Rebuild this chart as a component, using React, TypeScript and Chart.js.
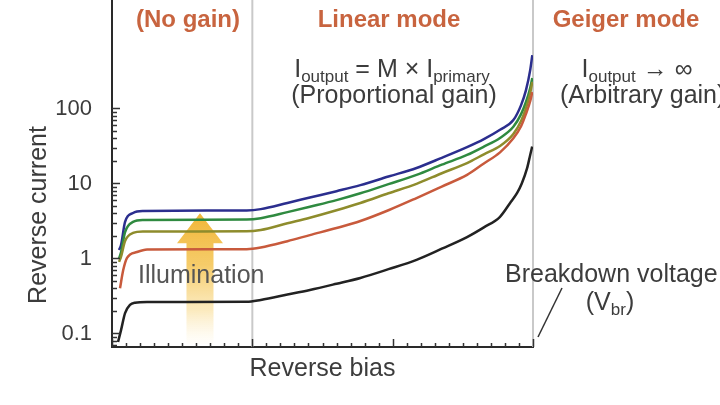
import React, { useEffect, useRef } from "react";
import { Chart, registerables } from "chart.js";

Chart.register(...registerables);

const FONT = '"Liberation Sans", Arial, Helvetica, sans-serif';

// ---- data (reverse bias in arbitrary units 0..30, reverse current on log scale) ----
const darkBias = [0.43, 0.64, 0.93, 1.28, 1.64, 2.5, 9.6, 10.6, 12.5, 14.1, 16, 17.7, 19.7, 21.7, 23.5, 25.3, 26.5, 27.65, 28.37, 28.87, 29.2, 29.58, 29.8, 29.94];
const darkCurrent = [0.077, 0.11, 0.187, 0.24, 0.257, 0.263, 0.264, 0.28, 0.33, 0.38, 0.46, 0.55, 0.72, 0.96, 1.35, 1.93, 2.6, 3.6, 5.5, 7.5, 10, 16, 24, 31];

const lowBias = [0.57, 0.8, 1.07, 1.78, 2.5, 9.6, 10.6, 12.5, 14.1, 16, 17.7, 19.7, 21.7, 23.5, 25.3, 26.5, 27.65, 28.6, 29.15, 29.5, 29.8, 29.95];
const lowCurrent = [0.4, 0.7, 1.02, 1.22, 1.32, 1.33, 1.4, 1.7, 2.05, 2.55, 3.16, 4.4, 6.4, 9.1, 13, 18.5, 26, 40, 58, 85, 125, 166];

const litBias = [0.5, 0.64, 0.93, 1.5, 2.2, 9.6, 10.6, 12.5, 14.1, 16, 17.7, 19.7, 21.7, 23.5, 25.3, 26.5, 27.65, 28.6, 29.15, 29.5, 29.8, 29.95];
const midCurrent = [0.9, 1.05, 1.71, 2.19, 2.29, 2.3, 2.4, 2.95, 3.5, 4.4, 5.5, 7.4, 9.9, 13.7, 18.7, 24.5, 31.6, 45.7, 68, 101, 161, 225];
const highCurrent = [1.0, 1.2, 2.25, 3.07, 3.26, 3.31, 3.45, 4.15, 4.9, 6.0, 7.4, 9.8, 13, 17.8, 24, 31, 40.5, 57, 84, 122, 188, 255];
const maxCurrent = [1.3, 1.5, 3.07, 4.04, 4.3, 4.37, 4.55, 5.5, 6.5, 7.9, 9.5, 12.4, 16.1, 22, 30.5, 39, 52, 70, 111, 176, 325, 515];

const yTickValues = [0.1, 1, 10, 100];
const modeBounds = [10, 30];
const biasMin = 0;
const biasMax = 30;
const currentMin = 0.066;
const currentMax = 2797;

// arrow (illumination) anchor in data units
const arrowBias = 6.27;
const arrowTip = 4.0;
const arrowHeadBase = 1.6;

const ORANGE = "#c8643f";
const TEXT = "#3c3c3c";

type Part = { t: string; size: number; bold?: boolean; dy?: number };

function drawRich(ctx: CanvasRenderingContext2D, parts: Part[], x: number, baseline: number, align: "left" | "center") {
  let w = 0;
  for (const p of parts) {
    ctx.font = `${p.bold ? "bold " : ""}${p.size}px ${FONT}`;
    w += ctx.measureText(p.t).width;
  }
  let cx = align === "center" ? x - w / 2 : x;
  ctx.textAlign = "left";
  ctx.textBaseline = "alphabetic";
  for (const p of parts) {
    ctx.font = `${p.bold ? "bold " : ""}${p.size}px ${FONT}`;
    ctx.fillText(p.t, cx, baseline + (p.dy || 0));
    cx += ctx.measureText(p.t).width;
  }
}

const annotations = {
  id: "annotations",
  beforeDatasetsDraw(chart: any) {
    const { ctx, chartArea, scales } = chart;
    const x = scales.x;
    const y = scales.y;
    ctx.save();
    // region dividers
    ctx.strokeStyle = "#c9c9c9";
    ctx.lineWidth = 2;
    for (const b of modeBounds) {
      const px = x.getPixelForValue(b);
      ctx.beginPath();
      ctx.moveTo(px, 0);
      ctx.lineTo(px, chartArea.bottom);
      ctx.stroke();
    }
    // illumination arrow
    const cx = x.getPixelForValue(arrowBias);
    const tipY = y.getPixelForValue(arrowTip);
    const baseY = y.getPixelForValue(arrowHeadBase);
    const botY = chartArea.bottom - 3;
    const g = ctx.createLinearGradient(0, tipY, 0, botY);
    g.addColorStop(0, "rgba(240,178,45,0.95)");
    g.addColorStop(0.4, "rgba(244,195,80,0.85)");
    g.addColorStop(0.75, "rgba(248,215,130,0.5)");
    g.addColorStop(1, "rgba(252,235,190,0.05)");
    ctx.fillStyle = g;
    ctx.beginPath();
    ctx.moveTo(cx, tipY);
    ctx.lineTo(cx + 23, baseY);
    ctx.lineTo(cx + 13.5, baseY);
    ctx.lineTo(cx + 13.5, botY);
    ctx.lineTo(cx - 13.5, botY);
    ctx.lineTo(cx - 13.5, baseY);
    ctx.lineTo(cx - 23, baseY);
    ctx.closePath();
    ctx.fill();
    ctx.restore();
  },
  afterDatasetsDraw(chart: any) {
    const { ctx, chartArea, scales } = chart;
    const x = scales.x;
    const y = scales.y;
    ctx.save();
    // inside tick marks
    ctx.strokeStyle = "#333";
    ctx.lineWidth = 1.5;
    for (let d = -2; d <= 2; d++) {
      for (let m = 1; m <= 9; m++) {
        const v = m * Math.pow(10, d);
        if (v < currentMin || v > 100.001) continue;
        const py = Math.round(y.getPixelForValue(v)) + 0.5;
        ctx.beginPath();
        ctx.moveTo(chartArea.left, py);
        ctx.lineTo(chartArea.left + (m === 1 ? 8 : 5), py);
        ctx.stroke();
      }
    }
    for (let i = biasMin; i <= biasMax; i++) {
      const px = Math.round(x.getPixelForValue(i)) + 0.5;
      ctx.beginPath();
      ctx.moveTo(px, chartArea.bottom);
      ctx.lineTo(px, chartArea.bottom - (i % 10 === 0 ? 8 : 4));
      ctx.stroke();
    }

    // mode headings
    ctx.fillStyle = ORANGE;
    drawRich(ctx, [{ t: "(No gain)", size: 24, bold: true }], 188, 27, "center");
    drawRich(ctx, [{ t: "Linear mode", size: 24, bold: true }], 389, 27, "center");
    drawRich(ctx, [{ t: "Geiger mode", size: 24, bold: true }], 626, 27, "center");

    ctx.fillStyle = TEXT;
    drawRich(
      ctx,
      [
        { t: "I", size: 25 },
        { t: "output", size: 17, dy: 5 },
        { t: " = M × I", size: 25 },
        { t: "primary", size: 17, dy: 5 },
      ],
      392,
      77,
      "center"
    );
    drawRich(ctx, [{ t: "(Proportional gain)", size: 25 }], 394, 103, "center");
    drawRich(
      ctx,
      [
        { t: "I", size: 25 },
        { t: "output", size: 17, dy: 5 },
        { t: " → ∞", size: 25 },
      ],
      637,
      77,
      "center"
    );
    drawRich(ctx, [{ t: "(Arbitrary gain)", size: 25 }], 560, 103, "left");

    ctx.fillStyle = "#555";
    drawRich(ctx, [{ t: "Illumination", size: 25 }], 138, 283, "left");

    ctx.fillStyle = TEXT;
    drawRich(ctx, [{ t: "Breakdown voltage", size: 25 }], 505, 282, "left");
    drawRich(
      ctx,
      [
        { t: "(V", size: 25 },
        { t: "br", size: 17, dy: 5 },
        { t: ")", size: 25 },
      ],
      610,
      310,
      "center"
    );

    // pointer to breakdown voltage
    ctx.strokeStyle = "#333";
    ctx.lineWidth = 1.5;
    ctx.beginPath();
    ctx.moveTo(538, 337);
    ctx.lineTo(562, 288);
    ctx.stroke();

    // y-axis title
    ctx.save();
    ctx.translate(39, 215);
    ctx.rotate(-Math.PI / 2);
    ctx.font = `25px ${FONT}`;
    ctx.fillStyle = TEXT;
    ctx.textAlign = "center";
    ctx.textBaseline = "middle";
    ctx.fillText("Reverse current", 0, 0);
    ctx.restore();

    ctx.restore();
  },
};

function series(label: string, xs: number[], ys: number[], color: string) {
  return {
    label,
    data: xs.map((b, i) => ({ x: b, y: ys[i] })),
    borderColor: color,
    backgroundColor: color,
    borderWidth: 2.5,
    pointRadius: 0,
    fill: false,
    cubicInterpolationMode: "monotone" as const,
  };
}

export default function App() {
  const ref = useRef<HTMLCanvasElement>(null);
  useEffect(() => {
    const canvas = ref.current;
    if (!canvas) return;
    Chart.defaults.font.family = FONT;
    const chart = new Chart(canvas, {
      type: "line",
      data: {
        datasets: [
          series("Dark", darkBias, darkCurrent, "#222222"),
          series("Low", lowBias, lowCurrent, "#c85a3c"),
          series("Mid", litBias, midCurrent, "#8e8c2c"),
          series("High", litBias, highCurrent, "#2f8a40"),
          series("Max", litBias, maxCurrent, "#2b2e8e"),
        ],
      },
      options: {
        responsive: false,
        maintainAspectRatio: false,
        animation: false,
        layout: { padding: { left: 0, right: 187, top: 0, bottom: 0 } },
        plugins: { legend: { display: false }, tooltip: { enabled: false } },
        scales: {
          x: {
            type: "linear",
            min: biasMin,
            max: biasMax,
            grid: { display: false },
            border: { display: true, color: "#2a2a2a", width: 2 },
            ticks: { display: false },
            title: {
              display: true,
              text: "Reverse bias",
              color: TEXT,
              font: { size: 25, family: FONT },
              padding: { top: 0, bottom: 21 },
            },
            afterFit: (s: any) => {
              s.height = 58;
              s.paddingLeft = 0;
              s.paddingRight = 0;
            },
          },
          y: {
            type: "logarithmic",
            min: currentMin,
            max: currentMax,
            grid: { display: false },
            border: { display: true, color: "#2a2a2a", width: 2 },
            ticks: {
              color: TEXT,
              font: { size: 22, family: FONT },
              padding: 12,
              autoSkip: false,
              callback: (v: any) => String(v),
            },
            afterBuildTicks: (s: any) => {
              s.ticks = yTickValues.map((v) => ({ value: v }));
            },
            afterFit: (s: any) => {
              s.width = 112;
              s.paddingTop = 0;
              s.paddingBottom = 0;
            },
          },
        },
      },
      plugins: [annotations],
    });
    return () => chart.destroy();
  }, []);
  return (
    <div style={{ position: "fixed", left: 0, top: 0, width: 720, height: 405, background: "#fff" }}>
      <canvas ref={ref} width={720} height={405} style={{ display: "block", width: 720, height: 405 }} />
    </div>
  );
}
